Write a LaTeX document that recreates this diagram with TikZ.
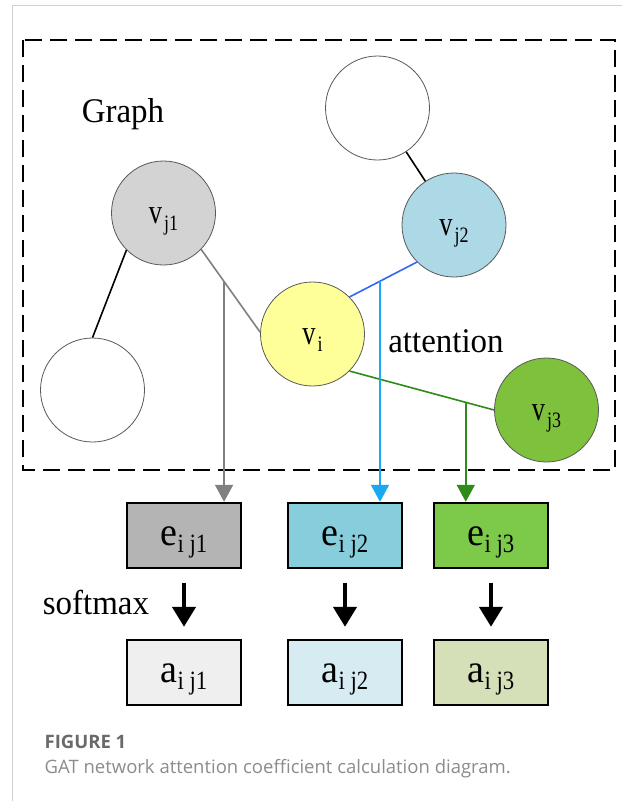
\documentclass[tikz,border=0pt]{standalone}
\usepackage{fontspec}
\setmainfont{Liberation Serif}
\newfontfamily\capfont{Open Sans}
\usetikzlibrary{arrows.meta}
\definecolor{cj1}{HTML}{D3D3D3}
\definecolor{cj2}{HTML}{ADD8E6}
\definecolor{ci}{HTML}{FFFF99}
\definecolor{cj3}{HTML}{7DC13C}
\definecolor{ce1}{HTML}{B4B4B4}
\definecolor{ce2}{HTML}{88CDDC}
\definecolor{ce3}{HTML}{7DC94A}
\definecolor{ca1}{HTML}{EFEFEF}
\definecolor{ca2}{HTML}{D7ECF2}
\definecolor{ca3}{HTML}{D5E0B8}
\definecolor{eblue}{HTML}{3366F5}
\definecolor{vblue}{HTML}{1AA8F0}
\definecolor{egreen}{HTML}{2E8B1A}
\definecolor{egray}{HTML}{808080}
\definecolor{framegray}{HTML}{D0D0D0}
\definecolor{capdark}{HTML}{6A6A6A}
\definecolor{caplight}{HTML}{8C8C8C}
\newcommand\circlab[2]{\scalebox{0.8}[1.05]{\fontsize{33}{33}\selectfont #1}\kern2pt\raisebox{-7pt}{\scalebox{0.9}[1.1]{\fontsize{20}{20}\selectfont #2}}}
\newcommand\boxlab[2]{\scalebox{1}[1.05]{\fontsize{38}{38}\selectfont #1}\raisebox{-7pt}{\scalebox{0.95}[1.1]{\fontsize{24}{24}\selectfont #2}}}
\begin{document}
\begin{tikzpicture}[x=1pt,y=-1pt,
  gnode/.style={circle, draw=black!65, line width=0.8pt, minimum size=104pt, inner sep=0pt, text height=21pt, text depth=0pt},
  ebox/.style={rectangle, draw=black, line width=1.8pt, minimum width=114pt, minimum height=65pt, inner sep=0pt, text height=20pt, text depth=0pt},
  edgeline/.style={line width=1.6pt},
  tarrow/.style={line width=1.8pt, -{Triangle[length=17pt,width=18pt]}},
  barrow/.style={line width=4.5pt, -{Triangle[length=20pt,width=23pt]}},
  bigtext/.style={font=\fontsize{32}{32}\selectfont, inner sep=0pt, anchor=base}
]
\useasboundingbox (0,0) rectangle (622,801);
\fill[white] (0,0) rectangle (622,801);
% page frame
\draw[framegray, line width=1pt] (12.5,801) -- (12.5,5) -- (622,5);
% dashed graph box
\draw[line width=2.5pt, dash pattern=on 17pt off 8pt] (23,40) rectangle (615,470);
\node[bigtext] (graph) at (123,122) {\scalebox{1.03}[1.08]{Graph}};
\node[bigtext] (att) at (446,352) {\scalebox{1.03}[1.08]{attention}};
\node[bigtext] (soft) at (96,614) {\scalebox{1.03}[1.08]{softmax}};
% graph nodes
\node[gnode, fill=white] (top) at (377.5,108) {};
\node[gnode, fill=white] (bl) at (92.5,390) {};
\node[gnode, fill=cj1] (vj1) at (163.5,213) {\circlab{v}{j1}};
\node[gnode, fill=cj2] (vj2) at (454,225) {\circlab{v}{j2}};
\node[gnode, fill=ci] (vi) at (312.5,334) {\circlab{v}{i}};
\node[gnode, fill=cj3] (vj3) at (546.5,410) {\circlab{v}{j3}};
% edges
\draw[edgeline, black] (top) -- (vj2);
\draw[edgeline, black] (vj1.225) -- (bl.90);
\draw[edgeline, egray] (vj1.316) -- (vi.178) coordinate[pos=0.388] (g1);
\draw[edgeline, eblue] (vi.45) -- (vj2.225) coordinate[pos=0.452] (g2);
\draw[edgeline, egreen] (vi.315) -- (vj3.180) coordinate[pos=0.804] (g3);
% boxes
\node[ebox, fill=ce1] (e1) at (184,535.2) {\boxlab{e}{i j1}};
\node[ebox, fill=ce2] (e2) at (345,535.2) {\boxlab{e}{i j2}};
\node[ebox, fill=ce3] (e3) at (491,535.2) {\boxlab{e}{i j3}};
\node[ebox, fill=ca1] (a1) at (184,672.2) {\boxlab{a}{i j1}};
\node[ebox, fill=ca2] (a2) at (345,672.2) {\boxlab{a}{i j2}};
\node[ebox, fill=ca3] (a3) at (491,672.2) {\boxlab{a}{i j3}};
% attention arrows
\draw[tarrow, egray] (g1) -- (g1 |- e1.north);
\draw[tarrow, vblue] (g2) -- (g2 |- e2.north);
\draw[tarrow, egreen] (g3) -- (g3 |- e3.north);
% softmax arrows
\draw[barrow] ([yshift=-14pt]e1.south) -- ([yshift=12pt]a1.north);
\draw[barrow] ([yshift=-14pt]e2.south) -- ([yshift=12pt]a2.north);
\draw[barrow] ([yshift=-14pt]e3.south) -- ([yshift=12pt]a3.north);
% caption
\node[anchor=base west, inner sep=0pt, text=capdark, font=\capfont\bfseries\fontsize{18.5}{18.5}\selectfont] (figlab) at (44.5,748) {FIGURE 1};
\node[anchor=base west, inner sep=0pt, text=caplight, font=\capfont\fontsize{18.5}{18.5}\selectfont] (figcap) at (44.5,773) {GAT network attention coefficient calculation diagram.};
\end{tikzpicture}
\end{document}
